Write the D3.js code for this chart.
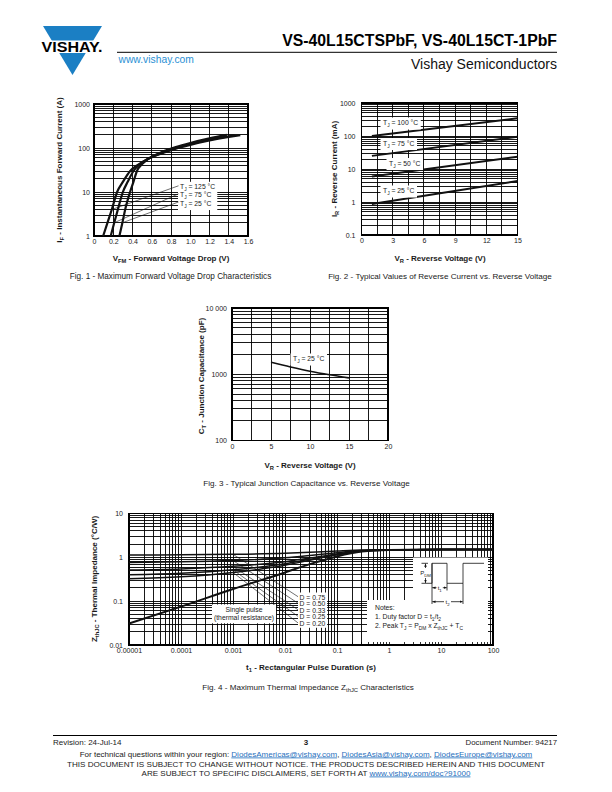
<!DOCTYPE html>
<html><head><meta charset="utf-8">
<script src="https://cdn.jsdelivr.net/npm/d3@7"></script>
<style>html,body{margin:0;padding:0;background:#fff}svg{display:block}</style>
</head><body>
<script>
const FONT = "'Liberation Sans', Arial, Helvetica, sans-serif";
// ---------------- DATA ----------------
// Fig. 1 - forward voltage drop
const fig1XTicks = [0, 0.2, 0.4, 0.6, 0.8, 1.0, 1.2, 1.4, 1.6];
const fig1XLabels = ["0", "0.2", "0.4", "0.6", "0.8", "1.0", "1.2", "1.4", "1.6"];
const fig1YTicks = [1, 10, 100, 1000];
const fig1YLabels = ["1", "10", "100", "1000"];
const fig1Temps = ["125", "75", "25"];
const vf125 = [0.095, 0.14, 0.185, 0.24, 0.30, 0.376, 0.46, 0.55, 0.70, 0.85, 1.00, 1.20, 1.40, 1.52];
const if125 = [1, 2, 4, 10, 17, 30, 42, 55, 75, 97, 118, 148, 178, 196];
const vf75 = [0.174, 0.21, 0.248, 0.30, 0.35, 0.41, 0.48, 0.55, 0.70, 0.85, 1.00, 1.20, 1.40, 1.46];
const if75 = [1, 2, 4, 10, 17, 30, 43, 55, 77, 100, 123, 154, 185, 195];
const vf25 = [0.264, 0.295, 0.324, 0.375, 0.41, 0.446, 0.50, 0.56, 0.70, 0.85, 1.00, 1.20, 1.38];
const if25 = [1, 2, 4, 10, 17, 30, 43, 56, 80, 105, 130, 165, 198];

// Fig. 2 - reverse current
const fig2XTicks = [0, 3, 6, 9, 12, 15];
const fig2XLabels = ["0", "3", "6", "9", "12", "15"];
const fig2YTicks = [0.1, 1, 10, 100, 1000];
const fig2YLabels = ["0.1", "1", "10", "100", "1000"];
const fig2Temps = ["100", "75", "50", "25"];
const vr2 = [1, 15];
const ir100 = [100, 345];
const ir75 = [25, 95];
const ir50 = [5.9, 23.5];
const ir25 = [0.87, 4.3];

// Fig. 3 - junction capacitance
const fig3XTicks = [0, 5, 10, 15, 20];
const fig3XLabels = ["0", "5", "10", "15", "20"];
const fig3YTicks = [100, 1000, 10000];
const fig3YLabels = ["100", "1000", "10 000"];
const capV = [5, 7.5, 10, 12.5, 15];
const capC = [1520, 1290, 1110, 980, 880];

// Fig. 4 - thermal impedance
const fig4XTicks = [1e-5, 1e-4, 1e-3, 1e-2, 1e-1, 1, 10, 100];
const fig4XLabels = ["0.00001", "0.0001", "0.001", "0.01", "0.1", "1", "10", "100"];
const fig4YTicks = [0.01, 0.1, 1, 10];
const fig4YLabels = ["0.01", "0.1", "1", "10"];
const zthT = [1e-5, 1e-4, 1e-3, 1e-2, 3e-2, 0.1, 0.3, 1, 10, 100];
const zthSingle = [0.031, 0.075, 0.19, 0.45, 0.70, 1.05, 1.35, 1.47, 1.5, 1.5];
const zthD75 = [1.133, 1.144, 1.173, 1.238, 1.30, 1.388, 1.463, 1.493, 1.5, 1.5];
const zthD50 = [0.766, 0.788, 0.845, 0.975, 1.10, 1.275, 1.425, 1.485, 1.5, 1.5];
const zthD33 = [0.516, 0.545, 0.622, 0.797, 0.964, 1.199, 1.40, 1.48, 1.5, 1.5];
const zthD25 = [0.398, 0.431, 0.518, 0.713, 0.90, 1.163, 1.388, 1.478, 1.5, 1.5];
const zthD20 = [0.325, 0.36, 0.452, 0.66, 0.86, 1.14, 1.38, 1.476, 1.5, 1.5];
const dutyLabels = ["D = 0.75", "D = 0.50", "D = 0.33", "D = 0.25", "D = 0.20"];

// ---------------- HELPERS ----------------
const svg = d3.select('body').append('svg').attr('width', 612).attr('height', 792)
  .attr('font-family', FONT);
svg.append('rect').attr('width', 612).attr('height', 792).attr('fill', '#fff');

function txt(parent, x, y, parts, size, o = {}) {
  const t = parent.append('text').attr('x', x).attr('y', y).attr('font-size', size)
    .attr('fill', o.fill || '#1a1a1a');
  if (o.anchor) t.attr('text-anchor', o.anchor);
  if (o.bold) t.attr('font-weight', 'bold');
  if (o.rotate) t.attr('transform', `rotate(-90,${x},${y})`);
  if (o.len) t.attr('textLength', o.len).attr('lengthAdjust', 'spacingAndGlyphs');
  if (typeof parts === 'string') parts = [{ t: parts }];
  let shift = 0;
  parts.forEach(p => {
    const ts = t.append('tspan').text(p.t);
    const target = p.sub ? size * 0.3 : 0;
    if (target !== shift) ts.attr('dy', target - shift);
    shift = target;
    if (p.sub) ts.attr('font-size', size * 0.72);
    if (p.link) ts.attr('fill', '#1f6fbd').attr('text-decoration', 'underline');
  });
  return t;
}
function box(layer, nodes, px, py) {
  let x0 = 1e9, y0 = 1e9, x1 = -1e9, y1 = -1e9;
  nodes.forEach(n => { const b = n.node().getBBox(); x0 = Math.min(x0, b.x); y0 = Math.min(y0, b.y); x1 = Math.max(x1, b.x + b.width); y1 = Math.max(y1, b.y + b.height); });
  layer.append('rect').attr('x', x0 - px).attr('y', y0 - py).attr('width', x1 - x0 + 2 * px).attr('height', y1 - y0 + 2 * py).attr('fill', '#fff');
}
function logMinor(lo, hi) {
  const v = [];
  for (let e = lo; e < hi; e++) for (let m = 1; m < 10; m++) v.push(+(m * Math.pow(10, e)).toPrecision(3));
  v.push(Math.pow(10, hi));
  return v;
}
function grid(g, x, y, xs, ys) {
  const [x0, x1] = x.range(), [y0, y1] = y.range();
  const gg = g.append('g').attr('stroke', '#000').attr('stroke-width', 0.9).attr('shape-rendering', 'crispEdges');
  gg.selectAll('.v').data(xs).join('line').attr('class', 'v')
    .attr('x1', d => x(d)).attr('x2', d => x(d)).attr('y1', y0).attr('y2', y1);
  gg.selectAll('.h').data(ys).join('line').attr('class', 'h')
    .attr('y1', d => y(d)).attr('y2', d => y(d)).attr('x1', x0).attr('x2', x1);
  gg.append('rect').attr('x', x0).attr('y', y1).attr('width', x1 - x0).attr('height', y0 - y1).attr('fill', 'none').attr('stroke-width', 1.1);
}
function axes(g, x, y, xv, xl, yv, yl, xPad, yPad, fs) {
  const ax = d3.axisBottom(x).tickValues(xv).tickFormat(d => xl[xv.indexOf(d)]).tickSize(0).tickPadding(xPad);
  const ay = d3.axisLeft(y).tickValues(yv).tickFormat(d => yl[yv.indexOf(d)]).tickSize(0).tickPadding(yPad);
  const gx = g.append('g').attr('transform', `translate(0,${y.range()[0]})`).call(ax);
  const gy = g.append('g').attr('transform', `translate(${x.range()[0]},0)`).call(ay);
  [gx, gy].forEach(s => {
    s.select('.domain').remove();
    s.attr('font-family', FONT).attr('font-size', fs);
    s.selectAll('text').attr('fill', '#1a1a1a');
  });
}
function curve(g, x, y, xs, ys, w, curveType) {
  const pts = xs.map((v, i) => [v, ys[i]]);
  g.append('path').datum(pts).attr('fill', 'none').attr('stroke', '#111').attr('stroke-width', w)
    .attr('stroke-linejoin', 'round')
    .attr('d', d3.line().x(d => x(d[0])).y(d => y(d[1])).curve(curveType || d3.curveMonotoneX));
}
function leader(g, x1, y1, x2, y2) {
  g.append('line').attr('x1', x1).attr('y1', y1).attr('x2', x2).attr('y2', y2)
    .attr('stroke', '#111').attr('stroke-width', 0.6);
}

// ---------------- HEADER ----------------
const hdr = svg.append('g');
hdr.append('polygon').attr('points', '43,26 102,26 72.5,75').attr('fill', '#1b7fc4');
hdr.append('rect').attr('x', 38).attr('y', 40.5).attr('width', 70).attr('height', 12.5).attr('fill', '#fff');
txt(hdr, 41.5, 52.3, 'VISHAY.', 14, { bold: true, fill: '#000', len: 61 });
txt(hdr, 118.5, 62.5, 'www.vishay.com', 10.3, { fill: '#2a8fd4' });
hdr.append('line').attr('x1', 117).attr('x2', 557).attr('y1', 52.3).attr('y2', 52.3).attr('stroke', '#000').attr('stroke-width', 1);
txt(hdr, 557, 46, 'VS-40L15CTSPbF, VS-40L15CT-1PbF', 15.8, { bold: true, anchor: 'end', fill: '#000' });
txt(hdr, 557, 68.5, 'Vishay Semiconductors', 14, { anchor: 'end', fill: '#111' });

// ---------------- FIG 1 ----------------
{
  const g = svg.append('g');
  const x = d3.scaleLinear().domain([0, 1.6]).range([94, 248]);
  const y = d3.scaleLog().domain([1, 1000]).range([236, 104]);
  grid(g, x, y, fig1XTicks, logMinor(0, 3));
  axes(g, x, y, fig1XTicks, fig1XLabels, fig1YTicks, fig1YLabels, 3.5, 4, 7);
  const series = [[vf125, if125], [vf75, if75], [vf25, if25]];
  series.forEach(s => curve(g, x, y, s[0], s[1], 2.2));
  const boxL = g.append('g'), tl = g.append('g');
  const ly = [189.3, 197.3, 205.5];
  const nodes = fig1Temps.map((t, i) => txt(tl, 180, ly[i], [{ t: 'T' }, { t: 'J', sub: true }, { t: ' = ' + t + ' °C' }], 6.8));
  box(boxL, nodes, 2, 1.5);
  const li = [2, 1, 1];
  series.forEach((s, i) => leader(g, x(s[0][li[i]]), y(s[1][li[i]]), 178.5, ly[i] - 3.5));
  txt(g, 171, 260.5, [{ t: 'V' }, { t: 'FM', sub: true }, { t: ' - Forward Voltage Drop (V)' }], 8, { bold: true, anchor: 'middle' });
  txt(g, 62, 170, [{ t: 'I' }, { t: 'F', sub: true }, { t: ' - Instantaneous Forward Current (A)' }], 8, { bold: true, anchor: 'middle', rotate: true });
  txt(g, 170.5, 279, 'Fig. 1 - Maximum Forward Voltage Drop Characteristics', 8.2, { anchor: 'middle' });
}

// ---------------- FIG 2 ----------------
{
  const g = svg.append('g');
  const x = d3.scaleLinear().domain([0, 15]).range([361.5, 517.5]);
  const y = d3.scaleLog().domain([0.1, 1000]).range([235, 103]);
  grid(g, x, y, d3.range(0, 15.01, 1.5), logMinor(-1, 3));
  axes(g, x, y, fig2XTicks, fig2XLabels, fig2YTicks, fig2YLabels, 3.5, 6, 7);
  [ir100, ir75, ir50, ir25].forEach(s => curve(g, x, y, vr2, s, 2, d3.curveLinear));
  const boxL = g.append('g'), tl = g.append('g');
  const lx = [383, 383, 389, 383], ly = [125, 145.5, 165.5, 193];
  fig2Temps.forEach((t, i) => {
    const n = txt(tl, lx[i], ly[i], [{ t: 'T' }, { t: 'J', sub: true }, { t: ' = ' + t + ' °C' }], 6.8);
    box(boxL, [n], 2.5, 1.5);
  });
  txt(g, 440, 260.5, [{ t: 'V' }, { t: 'R', sub: true }, { t: ' - Reverse Voltage (V)' }], 8, { bold: true, anchor: 'middle' });
  txt(g, 337, 169, [{ t: 'I' }, { t: 'R', sub: true }, { t: ' - Reverse Current (mA)' }], 8, { bold: true, anchor: 'middle', rotate: true });
  txt(g, 440, 279, 'Fig. 2 - Typical Values of Reverse Current vs. Reverse Voltage', 8.1, { anchor: 'middle' });
}

// ---------------- FIG 3 ----------------
{
  const g = svg.append('g');
  const x = d3.scaleLinear().domain([0, 20]).range([232, 388]);
  const y = d3.scaleLog().domain([100, 10000]).range([440.5, 308]);
  grid(g, x, y, d3.range(0, 20.01, 2.5), logMinor(2, 4));
  axes(g, x, y, fig3XTicks, fig3XLabels, fig3YTicks, fig3YLabels, 3.5, 5, 7);
  curve(g, x, y, capV, capC, 1.6);
  const boxL = g.append('g'), tl = g.append('g');
  const n = txt(tl, 293, 361, [{ t: 'T' }, { t: 'J', sub: true }, { t: ' = 25 °C' }], 6.8);
  box(boxL, [n], 2.5, 1.5);
  txt(g, 310, 467.5, [{ t: 'V' }, { t: 'R', sub: true }, { t: ' - Reverse Voltage (V)' }], 8, { bold: true, anchor: 'middle' });
  txt(g, 204, 376, [{ t: 'C' }, { t: 'T', sub: true }, { t: ' - Junction Capacitance (pF)' }], 8, { bold: true, anchor: 'middle', rotate: true });
  txt(g, 306.5, 485.5, 'Fig. 3 - Typical Junction Capacitance vs. Reverse Voltage', 8.1, { anchor: 'middle' });
}

// ---------------- FIG 4 ----------------
{
  const g = svg.append('g');
  const x = d3.scaleLog().domain([1e-5, 100]).range([129, 493]);
  const y = d3.scaleLog().domain([0.01, 10]).range([645, 513.5]);
  const xs = logMinor(-5, 2);
  grid(g, x, y, xs, logMinor(-2, 1));
  axes(g, x, y, fig4XTicks, fig4XLabels, fig4YTicks, fig4YLabels, 3.5, 6, 7);
  const dSeries = [zthD75, zthD50, zthD33, zthD25, zthD20];
  dSeries.forEach(s => curve(g, x, y, zthT, s, 1.5));
  curve(g, x, y, zthT, zthSingle, 2);
  // leader lines
  const dly = [599.5, 606, 612.6, 619.2, 625.8];
  dSeries.forEach((s, i) => leader(g, x(zthT[2]), y(s[2]), 298.5, dly[i] - 2.5));
  const boxL = g.append('g'), tl = g.append('g');
  // duty labels
  const dn = dutyLabels.map((d, i) => txt(tl, 299.5, dly[i], d, 6.8));
  box(boxL, dn, 1.5, 1);
  // single pulse
  const s1 = txt(tl, 244, 611.5, 'Single pulse', 6.8, { anchor: 'middle' });
  const s2 = txt(tl, 244, 620.3, '(thermal resistance)', 6.8, { anchor: 'middle' });
  box(boxL, [s1, s2], 2, 1);
  // notes box (L-shaped)
  boxL.append('rect').attr('x', 413).attr('y', 557.5).attr('width', 75).attr('height', 45).attr('fill', '#fff');
  boxL.append('rect').attr('x', 367).attr('y', 600).attr('width', 121).attr('height', 44).attr('fill', '#fff');
  // small bottom ticks
  g.append('g').selectAll('line').data(xs).join('line')
    .attr('x1', d => x(d)).attr('x2', d => x(d)).attr('y1', 645).attr('y2', 642)
    .attr('stroke', '#000').attr('stroke-width', 0.8).attr('shape-rendering', 'crispEdges');
  txt(tl, 375, 609.5, 'Notes:', 6.8);
  txt(tl, 375, 618.5, [{ t: '1. Duty factor D = t' }, { t: '1', sub: true }, { t: '/t' }, { t: '2', sub: true }], 6.8);
  txt(tl, 375, 627.5, [{ t: '2. Peak T' }, { t: 'J', sub: true }, { t: ' = P' }, { t: 'DM', sub: true }, { t: ' x Z' }, { t: 'thJC', sub: true }, { t: ' + T' }, { t: 'C', sub: true }], 6.8);
  // waveform
  const defs = svg.append('defs');
  defs.append('marker').attr('id', 'ah').attr('viewBox', '0 0 10 10').attr('refX', 10).attr('refY', 5)
    .attr('markerWidth', 4).attr('markerHeight', 4).attr('orient', 'auto-start-reverse')
    .append('path').attr('d', 'M0,1 L10,5 L0,9 z').attr('fill', '#111');
  const wf = g.append('g').attr('stroke', '#111').attr('stroke-width', 0.8).attr('fill', 'none');
  wf.append('path').attr('d', 'M421.5,583.3 H432 V563.3 H447 V583.3 H463 V563.3 H484');
  wf.append('path').attr('d', 'M421.5,563.3 H428');
  wf.append('path').attr('d', 'M432,563.3 V604 M447,583.3 V590.5 M463,583.3 V604');
  wf.append('line').attr('x1', 425.5).attr('x2', 425.5).attr('y1', 568).attr('y2', 563.6).attr('marker-end', 'url(#ah)');
  wf.append('line').attr('x1', 425.5).attr('x2', 425.5).attr('y1', 578).attr('y2', 583).attr('marker-end', 'url(#ah)');
  wf.append('line').attr('x1', 436.5).attr('x2', 432.3).attr('y1', 587.7).attr('y2', 587.7).attr('marker-end', 'url(#ah)');
  wf.append('line').attr('x1', 442.8).attr('x2', 446.7).attr('y1', 587.7).attr('y2', 587.7).attr('marker-end', 'url(#ah)');
  wf.append('line').attr('x1', 444).attr('x2', 432.3).attr('y1', 601.7).attr('y2', 601.7).attr('marker-end', 'url(#ah)');
  wf.append('line').attr('x1', 451).attr('x2', 462.7).attr('y1', 601.7).attr('y2', 601.7).attr('marker-end', 'url(#ah)');
  txt(g, 425.5, 575, [{ t: 'P' }, { t: 'DM', sub: true }], 6, { anchor: 'middle' });
  txt(g, 439.7, 590, [{ t: 't' }, { t: '1', sub: true }], 6, { anchor: 'middle' });
  txt(g, 447.5, 604, [{ t: 't' }, { t: '2', sub: true }], 6, { anchor: 'middle' });
  // titles
  txt(g, 311, 670, [{ t: 't' }, { t: '1', sub: true }, { t: ' - Rectangular Pulse Duration (s)' }], 8, { bold: true, anchor: 'middle' });
  txt(g, 97, 579, [{ t: 'Z' }, { t: 'thJC', sub: true }, { t: ' - Thermal Impedance (°C/W)' }], 8, { bold: true, anchor: 'middle', rotate: true });
  txt(g, 308, 690, [{ t: 'Fig. 4 - Maximum Thermal Impedance Z' }, { t: 'thJC', sub: true }, { t: ' Characteristics' }], 8.1, { anchor: 'middle' });
}

// ---------------- FOOTER ----------------
const ft = svg.append('g');
ft.append('line').attr('x1', 53).attr('x2', 557).attr('y1', 735.5).attr('y2', 735.5).attr('stroke', '#000').attr('stroke-width', 1.2);
txt(ft, 53, 744.5, 'Revision: 24-Jul-14', 8);
txt(ft, 306, 745, '3', 8, { bold: true, anchor: 'middle' });
txt(ft, 557, 744.5, 'Document Number: 94217', 7.8, { anchor: 'end' });
txt(ft, 306, 756.5, [{ t: 'For technical questions within your region: ' }, { t: 'DiodesAmericas@vishay.com', link: true }, { t: ', ' }, { t: 'DiodesAsia@vishay.com', link: true }, { t: ', ' }, { t: 'DiodesEurope@vishay.com', link: true }], 8, { anchor: 'middle' });
txt(ft, 306, 767, 'THIS DOCUMENT IS SUBJECT TO CHANGE WITHOUT NOTICE. THE PRODUCTS DESCRIBED HEREIN AND THIS DOCUMENT', 8.1, { anchor: 'middle' });
txt(ft, 306, 775.5, [{ t: 'ARE SUBJECT TO SPECIFIC DISCLAIMERS, SET FORTH AT ' }, { t: 'www.vishay.com/doc?91000', link: true }], 8.05, { anchor: 'middle' });
</script>
</body></html>
